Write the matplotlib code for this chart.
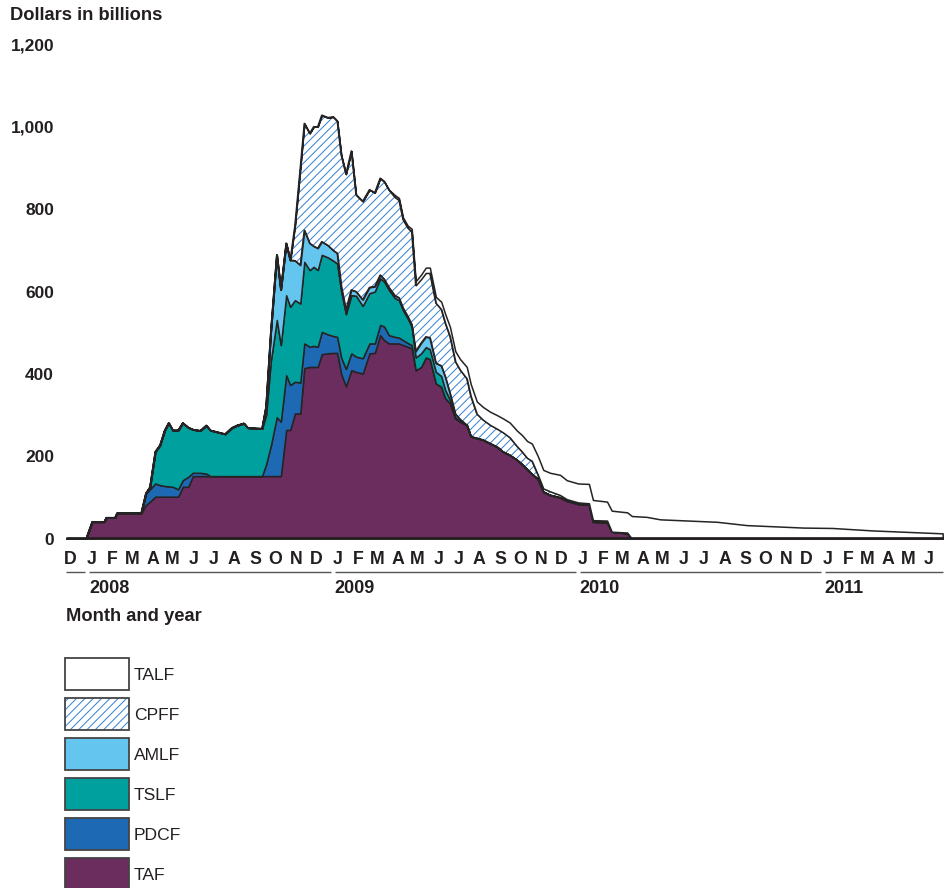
import matplotlib
matplotlib.use("Agg")
import matplotlib.pyplot as plt
import matplotlib.dates as mdates
from matplotlib.patches import Rectangle
import numpy as np
import datetime as dt

plt.rcParams['font.family'] = ['Liberation Sans', 'DejaVu Sans']
plt.rcParams['hatch.linewidth'] = 0.75

# ---------------- data (billions of dollars, weekly-ish levels) ----------------
dates = [
    "2007-12-01", "2007-12-31", "2008-01-09", "2008-01-27", "2008-01-30", "2008-02-12", "2008-02-15", "2008-03-22", "2008-03-29", "2008-04-04",
    "2008-04-12", "2008-04-19", "2008-04-26", "2008-05-02", "2008-05-08", "2008-05-16", "2008-05-23", "2008-05-31", "2008-06-07", "2008-06-18",
    "2008-06-27", "2008-07-03", "2008-07-25", "2008-08-04", "2008-08-12", "2008-08-22", "2008-08-28", "2008-09-18", "2008-09-24", "2008-10-01",
    "2008-10-10", "2008-10-16", "2008-10-24", "2008-10-30", "2008-11-06", "2008-11-14", "2008-11-20", "2008-11-28", "2008-12-04", "2008-12-10",
    "2008-12-16", "2008-12-25", "2009-01-02", "2009-01-08", "2009-01-14", "2009-01-21", "2009-01-29", "2009-02-05", "2009-02-15", "2009-02-25",
    "2009-03-05", "2009-03-13", "2009-03-19", "2009-03-26", "2009-04-04", "2009-04-10", "2009-04-16", "2009-04-23", "2009-04-29", "2009-05-05",
    "2009-05-13", "2009-05-20", "2009-05-26", "2009-06-04", "2009-06-12", "2009-06-18", "2009-06-25", "2009-07-03", "2009-07-10", "2009-07-20",
    "2009-07-26", "2009-08-04", "2009-08-13", "2009-08-24", "2009-09-03", "2009-09-12", "2009-09-22", "2009-10-03", "2009-10-10", "2009-10-18",
    "2009-10-25", "2009-11-03", "2009-11-11", "2009-11-21", "2009-12-06", "2009-12-16", "2010-01-02", "2010-01-18", "2010-01-24", "2010-02-14",
    "2010-02-21", "2010-03-16", "2010-03-23", "2010-04-14", "2010-05-04", "2010-07-28", "2010-09-10", "2010-12-03", "2011-01-16", "2011-03-17",
    "2011-06-29",
]

taf = [
    0, 0, 41, 41, 51, 51, 62, 62, 82, 90,
    102, 102, 102, 102, 102, 102, 126, 126, 152, 152,
    152, 152, 152, 152, 152, 152, 152, 152, 152, 152,
    152, 152, 264, 264, 304, 304, 414, 417, 417, 417,
    448, 450, 451, 451, 400, 370, 409, 405, 401, 450,
    451, 494, 482, 474, 474, 474, 470, 466, 462, 409,
    417, 440, 436, 377, 369, 341, 329, 292, 284, 276,
    248, 244, 240, 231, 223, 211, 203, 191, 181, 168,
    157, 145, 114, 106, 100, 92, 84, 84, 41, 40,
    17, 13, 0, 0, 0, 0, 0, 0, 0, 0,
    0,
]

pdcf = [
    0, 0, 0, 0, 0, 0, 0, 0, 28, 30,
    32, 28, 26, 25, 24, 18, 16, 24, 8, 8,
    6, 0, 0, 0, 0, 0, 0, 0, 28, 73,
    143, 132, 133, 109, 77, 75, 60, 49, 51, 49,
    54, 46, 41, 39, 40, 42, 41, 37, 37, 24,
    23, 25, 33, 20, 16, 14, 12, 9, 8, 0,
    0, 0, 0, 0, 0, 0, 0, 0, 0, 0,
    0, 0, 0, 0, 0, 0, 0, 0, 0, 0,
    0, 0, 0, 0, 0, 0, 0, 0, 0, 0,
    0, 0, 0, 0, 0, 0, 0, 0, 0, 0,
    0,
]

tslf = [
    0, 0, 0, 0, 0, 0, 0, 0, 0, 5,
    77, 97, 135, 154, 137, 143, 139, 120, 105, 102,
    117, 111, 102, 117, 123, 128, 117, 115, 120, 205,
    236, 186, 194, 190, 198, 192, 198, 186, 192, 186,
    187, 187, 183, 178, 160, 133, 141, 148, 127, 122,
    126, 113, 109, 110, 94, 91, 73, 60, 45, 31,
    33, 25, 24, 28, 26, 20, 8, 3, 1, 0,
    0, 0, 0, 0, 0, 0, 0, 0, 0, 0,
    0, 0, 0, 0, 0, 0, 0, 0, 0, 0,
    0, 0, 0, 0, 0, 0, 0, 0, 0, 0,
    0,
]

amlf = [
    0, 0, 0, 0, 0, 0, 0, 0, 0, 0,
    0, 0, 0, 0, 0, 0, 0, 0, 0, 0,
    0, 0, 0, 0, 0, 0, 0, 0, 20, 70,
    158, 134, 126, 113, 96, 93, 77, 65, 50, 53,
    32, 29, 25, 25, 12, 10, 13, 10, 15, 14,
    12, 8, 6, 6, 6, 6, 5, 5, 5, 15,
    25, 25, 28, 21, 25, 32, 16, 8, 5, 0,
    0, 0, 0, 0, 0, 0, 0, 0, 0, 0,
    0, 0, 0, 0, 0, 0, 0, 0, 0, 0,
    0, 0, 0, 0, 0, 0, 0, 0, 0, 0,
    0,
]

cpff = [
    0, 0, 0, 0, 0, 0, 0, 0, 0, 0,
    0, 0, 0, 0, 0, 0, 0, 0, 0, 0,
    0, 0, 0, 0, 0, 0, 0, 0, 0, 0,
    0, 0, 0, 0, 85, 236, 259, 267, 290, 295,
    307, 310, 324, 321, 319, 330, 337, 235, 239, 237,
    228, 235, 237, 237, 239, 237, 215, 215, 225, 160,
    155, 155, 157, 146, 137, 130, 138, 127, 120, 113,
    98, 59, 49, 45, 44, 47, 43, 33, 31, 28,
    32, 10, 8, 9, 6, 4, 4, 2, 4, 4,
    0, 2, 0, 0, 0, 0, 0, 0, 0, 0,
    0,
]

talf = [
    0, 0, 0, 0, 0, 0, 0, 0, 0, 0,
    0, 0, 0, 0, 0, 0, 0, 0, 0, 0,
    0, 0, 0, 0, 0, 0, 0, 0, 0, 0,
    0, 0, 0, 0, 0, 0, 0, 0, 0, 0,
    0, 0, 0, 0, 0, 0, 0, 0, 0, 0,
    0, 0, 0, 0, 5, 5, 5, 5, 7, 10,
    11, 13, 13, 15, 18, 22, 23, 25, 26, 28,
    29, 30, 31, 32, 33, 34, 36, 38, 40, 41,
    42, 45, 45, 45, 49, 46, 46, 47, 49, 46,
    51, 49, 55, 53, 47, 41, 33, 27, 26, 20,
    13,
]

series_names = ["TAF", "PDCF", "TSLF", "AMLF", "CPFF", "TALF"]
legend_order = ["TALF", "CPFF", "AMLF", "TSLF", "PDCF", "TAF"]
month_letters = ["D",
                 "J", "F", "M", "A", "M", "J", "J", "A", "S", "O", "N", "D",
                 "J", "F", "M", "A", "M", "J", "J", "A", "S", "O", "N", "D",
                 "J", "F", "M", "A", "M", "J", "J", "A", "S", "O", "N", "D",
                 "J", "F", "M", "A", "M", "J"]
year_labels = ["2008", "2009", "2010", "2011"]
y_ticks = [0, 200, 400, 600, 800, 1000, 1200]

# ---------------- styling ----------------
colors = {"TAF": "#6b2c5e", "PDCF": "#1e69b3", "TSLF": "#00a09e",
          "AMLF": "#64c6ef", "CPFF": "white", "TALF": "white"}
hatch_color = "#3d86d6"
edge = "#262324"
text_color = "#231f20"

W, H = 951, 888
fig = plt.figure(figsize=(W / 100, H / 100), dpi=100)
y0_px, y1200_px = 538.7, 44.3
ax = fig.add_axes([66 / W, (H - y0_px) / H, 878 / W, (y0_px - y1200_px) / H])

x = mdates.date2num([dt.datetime.strptime(d, "%Y-%m-%d") for d in dates])
start = dt.datetime(2007, 12, 1)
end = dt.datetime(2011, 7, 1)
ax.set_xlim(mdates.date2num(start), mdates.date2num(end))
ax.set_ylim(0, 1200)

values = {"TAF": taf, "PDCF": pdcf, "TSLF": tslf, "AMLF": amlf, "CPFF": cpff, "TALF": talf}
base = np.zeros(len(x))
for name in series_names:
    top = base + np.asarray(values[name], dtype=float)
    if name == "CPFF":
        ax.fill_between(x, base, top, facecolor="white", edgecolor=hatch_color,
                        hatch="////", linewidth=0, zorder=2)
        ax.fill_between(x, base, top, facecolor="none", edgecolor=edge,
                        linewidth=1.1, zorder=3)
    else:
        ax.fill_between(x, base, top, facecolor=colors[name], edgecolor=edge,
                        linewidth=1.1, zorder=3)
    base = top

ax.axhline(0, color=text_color, linewidth=3.4, zorder=6, solid_capstyle="butt")

for s in ax.spines.values():
    s.set_visible(False)
ax.set_xticks([])
ax.set_yticks(y_ticks)
ax.set_yticklabels([f"{v:,}" for v in y_ticks], fontsize=12.5, fontweight="bold",
                   color=text_color)
ax.tick_params(axis="y", length=0, pad=8.6)

# month letters, year underlines and year labels
trans = ax.get_xaxis_transform()
ax_h = y0_px - y1200_px
months = []
yy, mm = 2007, 12
for i in range(len(month_letters)):
    months.append(dt.datetime(yy, mm, 1))
    mm += 1
    if mm > 12:
        mm = 1
        yy += 1
for d, lab in zip(months, month_letters):
    ax.text(mdates.date2num(d + dt.timedelta(days=7)), -20.5 / ax_h, lab,
            transform=trans, ha="center", va="center", fontsize=12.8,
            fontweight="bold", color=text_color, clip_on=False)

seg_bounds = [(start, dt.datetime(2008, 1, 1))]
for yl in year_labels:
    yv = int(yl)
    seg_bounds.append((dt.datetime(yv, 1, 1), min(dt.datetime(yv + 1, 1, 1), end)))
for i, (a, b) in enumerate(seg_bounds):
    xa = mdates.date2num(a + dt.timedelta(days=3.5 if i > 0 else 0))
    xb = mdates.date2num(b - dt.timedelta(days=2))
    ax.plot([xa, xb], [-33.5 / ax_h] * 2, transform=trans, color="#555555",
            linewidth=1.0, clip_on=False, solid_capstyle="butt")
    if i > 0:
        ax.text(xa, -49.5 / ax_h, year_labels[i - 1], transform=trans, ha="left",
                va="center", fontsize=13, fontweight="bold", color=text_color,
                clip_on=False)

# overlay axes in pixel coordinates for titles and legend
lax = fig.add_axes([0, 0, 1, 1])
lax.set_xlim(0, W)
lax.set_ylim(H, 0)
lax.axis("off")

lax.text(10, 16, "Dollars in billions", ha="left", va="center", fontsize=13.2,
         fontweight="bold", color=text_color)
lax.text(66, 616, "Month and year", ha="left", va="center", fontsize=13.2,
         fontweight="bold", color=text_color)

for i, name in enumerate(legend_order):
    top_px = 658 + 40 * i
    if name == "CPFF":
        lax.add_patch(Rectangle((64.5, top_px), 64, 32, facecolor="white",
                                edgecolor=hatch_color, hatch="////", linewidth=0))
        lax.add_patch(Rectangle((64.5, top_px), 64, 32, facecolor="none",
                                edgecolor="#444444", linewidth=1.3))
    else:
        lax.add_patch(Rectangle((64.5, top_px), 64, 32, facecolor=colors[name],
                                edgecolor="#444444", linewidth=1.3))
    lax.text(134, top_px + 17, name, ha="left", va="center", fontsize=12.6,
             color=text_color)

fig.savefig("out.png", dpi=100)
